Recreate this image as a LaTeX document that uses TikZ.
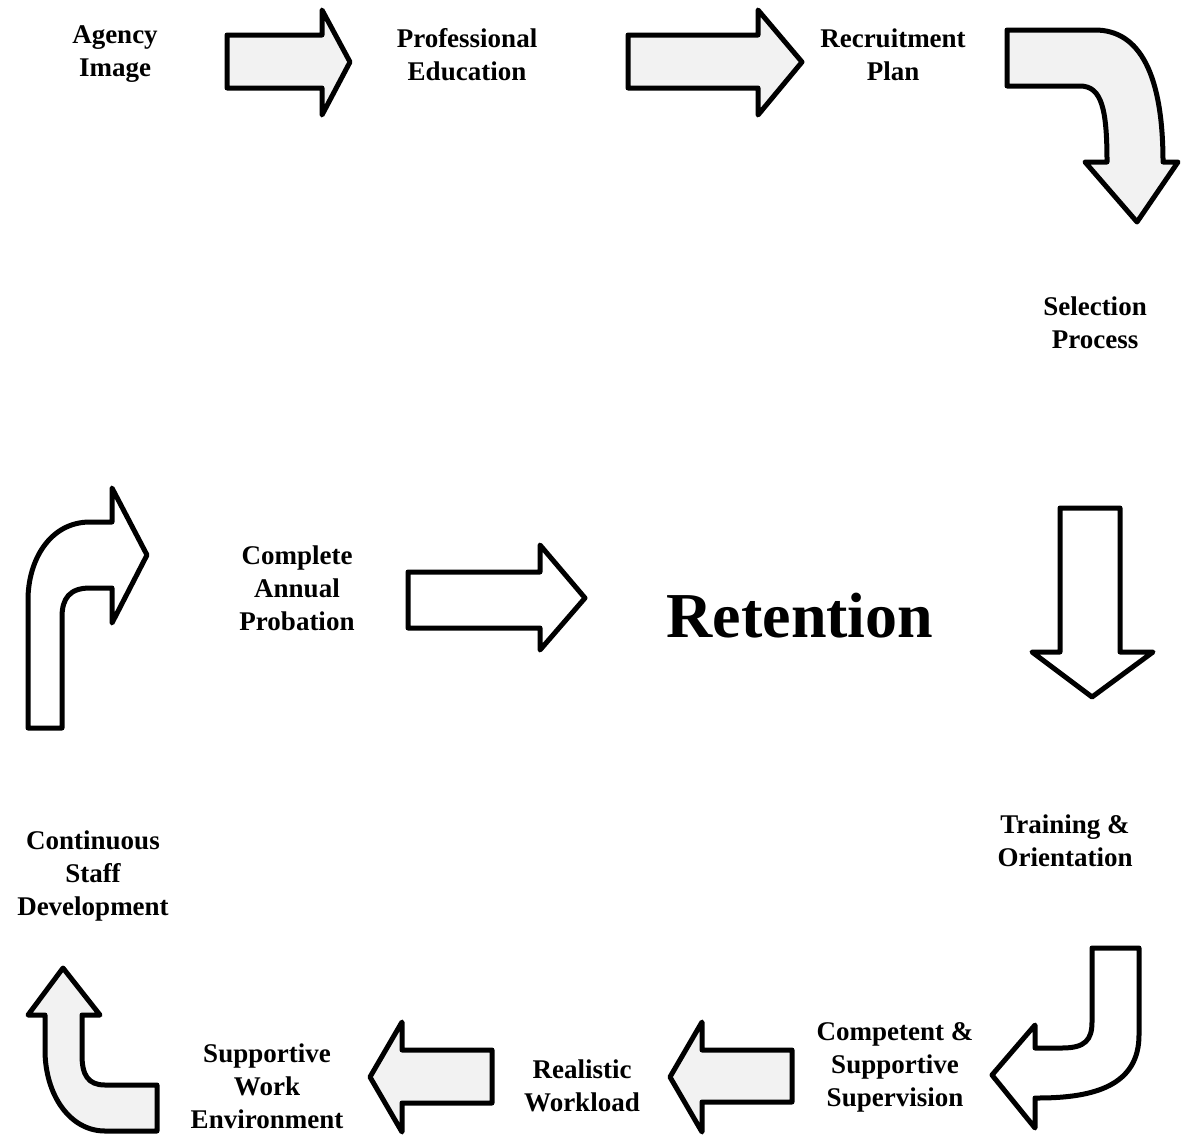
\documentclass[tikz,border=0pt]{standalone}
\usepackage{fontspec}
\setmainfont{Liberation Serif}
\begin{document}
\begin{tikzpicture}[x=1pt,y=-1pt,
  blockarrow/.style={draw=black, line width=5pt, line join=round, fill=white},
  stippled/.style={blockarrow, fill=black!5},
  label/.style={align=center, inner sep=0pt, font=\bfseries\fontsize{27}{33}\selectfont},
  bigword/.style={inner sep=0pt, font=\bfseries\fontsize{64}{70}\selectfont}]
\useasboundingbox (0,0) rectangle (1188,1135);

% labels
\node[label] (agency) at (115,54) {Agency\\Image};
\node[label] (profed) at (467,55) {Professional\\Education};
\node[label] (recruit) at (893,55) {Recruitment\\Plan};
\node[label] (select) at (1095,323) {Selection\\Process};
\node[label] (probation) at (297,588) {Complete\\Annual\\Probation};
\node[bigword] (retention) at (800,616) {Retention};
\node[label] (training) at (1065,841) {Training \&\\Orientation};
\node[label] (csd) at (93,876) {Continuous\\Staff\\Development};
\node[label] (supervision) at (895,1067) {Competent \&\\Supportive\\Supervision};
\node[label] (workload) at (582,1086) {Realistic\\Workload};
\node[label] (environment) at (267,1086) {Supportive\\Work\\Environment};

% straight arrow: Agency Image -> Professional Education
\draw[stippled] (227,35) -- (322,35) -- (322,10) -- (350,62) -- (322,115) -- (322,88) -- (227,88) -- cycle;
% straight arrow: Professional Education -> Recruitment Plan
\draw[stippled] (628,35) -- (758,35) -- (758,10) -- (802,62) -- (758,115) -- (758,88) -- (628,88) -- cycle;
% bent arrow: Recruitment Plan -> Selection Process
\draw[stippled] (1007,30) -- (1095,30) .. controls (1140,30) and (1163,75) .. (1163,162)
  -- (1178,162) -- (1137,222) -- (1085,162) -- (1107,162)
  .. controls (1107,110) and (1102,86) .. (1080,86) -- (1007,86) -- cycle;
% down arrow: Selection Process -> Training & Orientation
\draw[blockarrow] (1060,508) -- (1120,508) -- (1120,652) -- (1153,652) -- (1092,697) -- (1032,652) -- (1060,652) -- cycle;
% bent arrow: Training -> Supervision
\draw[blockarrow] (1092,948) -- (1139,948) -- (1139,1035) .. controls (1139,1085) and (1095,1098) .. (1038,1098)
  -- (1035,1098) -- (1035,1128) -- (992,1075) -- (1035,1025) -- (1035,1048) -- (1062,1048)
  .. controls (1085,1048) and (1092,1040) .. (1092,1022) -- cycle;
% left arrow: Supervision -> Workload
\draw[stippled] (792,1050) -- (702,1050) -- (702,1022) -- (670,1077) -- (702,1132) -- (702,1102) -- (792,1102) -- cycle;
% left arrow: Workload -> Environment
\draw[stippled] (492,1050) -- (402,1050) -- (402,1022) -- (370,1077) -- (402,1132) -- (402,1103) -- (492,1103) -- cycle;
% bent arrow: Environment -> Continuous Staff Development
\draw[stippled] (63,968) -- (100,1015) -- (82,1015) -- (82,1055) .. controls (82,1075) and (88,1085) .. (105,1085)
  -- (157,1085) -- (157,1131) -- (105,1131) .. controls (70,1131) and (45,1095) .. (45,1050)
  -- (45,1015) -- (28,1015) -- cycle;
% bent arrow: Continuous Staff Development -> Complete Annual Probation
\draw[blockarrow] (28,728) -- (62,728) -- (62,617) .. controls (62,598) and (70,588) .. (90,588)
  -- (112,588) -- (112,623) -- (147,555) -- (112,488) -- (112,522) -- (90,522)
  .. controls (50,522) and (28,560) .. (28,600) -- cycle;
% straight arrow: Complete Annual Probation -> Retention
\draw[blockarrow] (408,572) -- (540,572) -- (540,545) -- (585,598) -- (540,650) -- (540,628) -- (408,628) -- cycle;
\end{tikzpicture}
\end{document}
